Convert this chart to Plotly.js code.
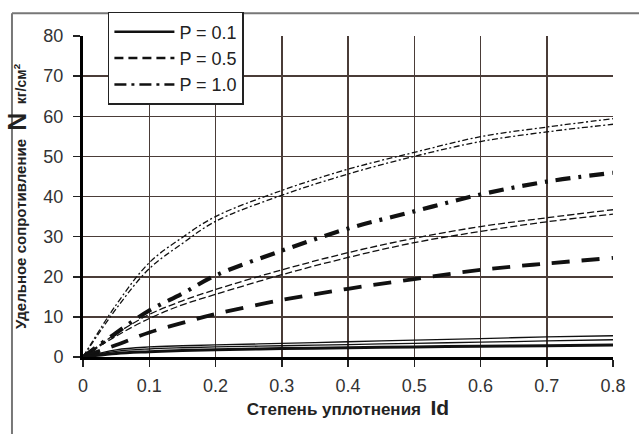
<!DOCTYPE html>
<html>
<head>
<meta charset="utf-8">
<script src="https://cdn.plot.ly/plotly-3.0.1.min.js"></script>
<style>html,body{margin:0;padding:0;background:#fff;}#chart{width:639px;height:434px;}</style>
</head>
<body>
<div id="chart"></div>
<script>
// Degree of compaction Id
const xId = [0, 0.05, 0.1, 0.15, 0.2, 0.3, 0.4, 0.5, 0.6, 0.7, 0.8];

// P = 1.0 (dash-dot)
const p10ThinUpper = [0, 13.0, 23.5, 29.8, 35.0, 41.5, 46.8, 51.0, 54.9, 57.3, 59.4];
const p10ThinLower = [0, 12.0, 22.0, 28.3, 33.8, 40.3, 45.6, 50.0, 53.7, 56.1, 58.0];
const p10Thick     = [0, 6.0, 11.6, 15.8, 20.3, 26.5, 32.0, 36.3, 40.5, 43.7, 45.9];

// P = 0.5 (dashed)
const p05ThinUpper = [0, 5.8, 10.6, 14.0, 16.8, 21.7, 26.0, 29.6, 32.5, 34.7, 36.7];
const p05ThinLower = [0, 5.2, 9.6, 13.0, 15.6, 20.5, 24.8, 28.5, 31.3, 33.7, 35.6];
const p05Thick     = [0, 3.0, 6.1, 8.5, 10.7, 14.2, 17.0, 19.4, 21.7, 23.3, 24.7];

// P = 0.1 (solid)
const p01ThinUpper = [0, 1.8, 2.5, 2.8, 3.0, 3.4, 3.8, 4.2, 4.6, 5.0, 5.3];
const p01ThinLower = [0, 1.4, 2.0, 2.3, 2.5, 2.8, 3.1, 3.4, 3.7, 4.0, 4.3];
const p01Thick     = [0, 0.9, 1.3, 1.6, 1.8, 2.1, 2.3, 2.5, 2.7, 2.8, 3.0];

const legendNames = ['P = 0.1', 'P = 0.5', 'P = 1.0'];
const xTicks = [0, 0.1, 0.2, 0.3, 0.4, 0.5, 0.6, 0.7, 0.8];
const xTickText = ['0', '0.1', '0.2', '0.3', '0.4', '0.5', '0.6', '0.7', '0.8'];
const yTicks = [0, 10, 20, 30, 40, 50, 60, 70, 80];

const thinW = 1.3;
const thinDash = '7px,3px';
const thinDashDot = '6px,2.5px,2px,2.5px';

function tr(y, width, dash) {
  return {x: xId, y: y, type: 'scatter', mode: 'lines', showlegend: false,
    hoverinfo: 'skip', line: {color: '#111', width: width, dash: dash, shape: 'spline', smoothing: 1}};
}

const data = [
  tr(p10ThinUpper, thinW, thinDashDot),
  tr(p10ThinLower, thinW, thinDashDot),
  tr(p10Thick, 4.2, '15px,8px,3px,8px'),
  tr(p05ThinUpper, thinW, thinDash),
  tr(p05ThinLower, thinW, thinDash),
  tr(p05Thick, 3.8, '18px,12px'),
  tr(p01ThinUpper, thinW, 'solid'),
  tr(p01ThinLower, thinW, 'solid'),
  tr(p01Thick, 3, 'solid'),
  {x: [null], y: [null], name: legendNames[0], type: 'scatter', mode: 'lines', line: {color: '#111', width: 2.5, dash: 'solid'}},
  {x: [null], y: [null], name: legendNames[1], type: 'scatter', mode: 'lines', line: {color: '#111', width: 2.5, dash: '9px,5px'}},
  {x: [null], y: [null], name: legendNames[2], type: 'scatter', mode: 'lines', line: {color: '#111', width: 2.5, dash: '12px,5px,3px,5px'}}
];

const layout = {
  width: 639, height: 434,
  margin: {l: 83, r: 26, t: 31, b: 77},
  paper_bgcolor: '#fff', plot_bgcolor: '#fff',
  font: {family: 'Liberation Sans, Arial, sans-serif', color: '#333'},
  showlegend: true,
  legend: {x: 0.047, y: 1.075, xanchor: 'left', yanchor: 'top',
    bgcolor: '#fff', bordercolor: '#222', borderwidth: 1.5,
    font: {size: 18, color: '#222'}, tracegroupgap: 0, itemwidth: 60},
  xaxis: {
    range: [0, 0.8], tickmode: 'array', tickvals: xTicks, ticktext: xTickText,
    showgrid: true, gridcolor: '#4a3c38', gridwidth: 1.5,
    zeroline: false, showline: true, linecolor: '#000', linewidth: 3,
    ticks: 'outside', ticklen: 7, tickwidth: 1.5, tickcolor: '#222',
    ticklabelstandoff: 3,
    tickfont: {size: 18, color: '#333'},
    title: {text: '<b>Степень уплотнения  <span style="font-size:21px">Id</span></b>',
      font: {size: 17, color: '#222'}, standoff: 8}
  },
  yaxis: {
    range: [0, 80], tickmode: 'array', tickvals: yTicks,
    showgrid: true, gridcolor: '#4a3c38', gridwidth: 1.5,
    zeroline: false, showline: true, linecolor: '#000', linewidth: 3,
    ticks: 'outside', ticklen: 7, tickwidth: 1.5, tickcolor: '#222',
    ticklabelstandoff: 6,
    tickfont: {size: 18, color: '#333'},
    title: {text: '<b>Удельное сопротивление  <span style="font-size:25px">N</span>  <span style="font-size:14px">кг/см<sup>2</sup></span></b>',
      font: {size: 15, color: '#222'}, standoff: 14}
  },
  shapes: [
    {type: 'line', xref: 'paper', yref: 'paper', x0: -0.134, x1: 1.2, y0: 1.071, y1: 1.071,
      line: {color: '#777', width: 2}, layer: 'below'},
    {type: 'line', xref: 'paper', yref: 'paper', x0: -0.134, x1: -0.134, y0: -0.4, y1: 1.071,
      line: {color: '#777', width: 2}, layer: 'below'}
  ]
};

Plotly.newPlot('chart', data, layout, {displayModeBar: false, staticPlot: true});
</script>
</body>
</html>
